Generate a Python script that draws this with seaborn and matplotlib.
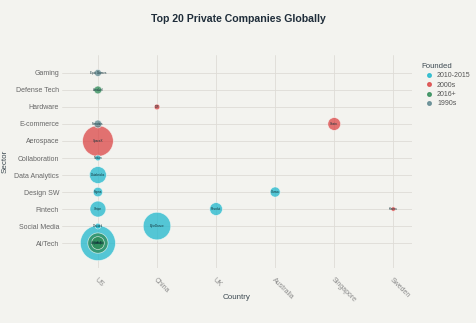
import matplotlib
matplotlib.use("Agg")
import matplotlib.pyplot as plt
import seaborn as sns
import pandas as pd
from matplotlib.lines import Line2D

companies = ["OpenAI", "Anthropic", "xAI", "SpaceX", "ByteDance", "Databricks", "Stripe",
             "Revolut", "Shein", "Canva", "Figma", "Anduril", "Fanatics", "Epic Games",
             "Discord", "Notion", "DJI", "Klarna"]
countries = ["US", "US", "US", "US", "China", "US", "US",
             "UK", "Singapore", "Australia", "US", "US", "US", "US",
             "US", "US", "China", "Sweden"]
sectors = ["AI/Tech", "AI/Tech", "AI/Tech", "Aerospace", "Social Media", "Data Analytics", "Fintech",
           "Fintech", "E-commerce", "Design SW", "Design SW", "Defense Tech", "E-commerce", "Gaming",
           "Social Media", "Collaboration", "Hardware", "Fintech"]
founded = ["2010-2015", "2016+", "2016+", "2000s", "2010-2015", "2010-2015", "2010-2015",
           "2010-2015", "2000s", "2010-2015", "2010-2015", "2016+", "1990s", "1990s",
           "2010-2015", "2010-2015", "2000s", "2000s"]
valuation = [300, 100, 40, 230, 185, 70, 62, 40, 40, 25, 22, 15, 15, 12, 8, 8, 8, 5]

country_order = ["US", "China", "UK", "Australia", "Singapore", "Sweden"]
sector_order = ["AI/Tech", "Social Media", "Fintech", "Design SW", "Data Analytics", "Collaboration",
                "Aerospace", "E-commerce", "Hardware", "Defense Tech", "Gaming"]
hue_order = ["2010-2015", "2000s", "2016+", "1990s"]
palette = ["#1FB8CD", "#DB4545", "#2E8B57", "#5D878F"]

df = pd.DataFrame({"Company": companies, "Country": countries, "Sector": sectors,
                   "Founded": founded, "Valuation": valuation})
df["cx"] = df["Country"].map({c: i for i, c in enumerate(country_order)})
df["sy"] = df["Sector"].map({s: i for i, s in enumerate(sector_order)})

bg = "#F3F3EF"
sns.set_theme(style="whitegrid")
plt.rcParams["font.family"] = ["Liberation Sans", "DejaVu Sans"]
fig = plt.figure(figsize=(4.76, 3.23), dpi=100, facecolor=bg)
ax = fig.add_axes([0.130, 0.170, 0.736, 0.660])
ax.set_facecolor(bg)

sns.scatterplot(data=df, x="cx", y="sy", hue="Founded", hue_order=hue_order, palette=palette,
                size="Valuation", sizes=(0, 640), size_norm=(0, 300), alpha=0.75,
                edgecolor="#FAFAF7", linewidth=0.5, ax=ax, legend=False, zorder=3)

for _, r in df.iterrows():
    ax.text(r["cx"], r["sy"], r["Company"], fontsize=2.2, ha="center", va="center",
            color="#13343B", zorder=4)

ax.set_xlim(-0.61, 5.32)
ax.set_ylim(-1.47, 11.06)
ax.set_xticks(range(len(country_order)))
ax.set_xticklabels(country_order, rotation=-45, ha="left", va="top", rotation_mode="anchor",
                   fontsize=5.0, color="#8a8a8a")
ax.set_yticks(range(len(sector_order)))
ax.set_yticklabels(sector_order, fontsize=5.0, color="#666666")
ax.tick_params(axis="x", length=0, pad=6)
ax.tick_params(axis="y", length=0, pad=2)
ax.grid(True, color="#DEDCD6", linewidth=0.6)
for s in ax.spines.values():
    s.set_visible(False)
ax.set_xlabel("Country", fontsize=5.8, color="#3d4a52", labelpad=-7)
ax.set_ylabel("Sector", fontsize=5.8, color="#3d4a52", labelpad=4)

fig.text(0.5, 0.940, "Top 20 Private Companies Globally", ha="center", va="center",
         fontsize=7.6, color="#1F2D3A", fontweight="bold")

handles = [Line2D([0], [0], marker="o", linestyle="", markersize=2.6, markerfacecolor=c,
                  markeredgecolor=c, alpha=0.8) for c in palette]
leg = fig.legend(handles, hue_order, title="Founded", loc="upper left",
                 bbox_to_anchor=(0.886, 0.806), frameon=False, fontsize=5.0,
                 title_fontsize=5.6, handletextpad=0.2, labelspacing=0.35,
                 borderaxespad=0, borderpad=0, handlelength=2.0)
leg._legend_box.align = "left"
for t in leg.get_texts():
    t.set_color("#555555")
leg.get_title().set_color("#3d4a52")

fig.savefig("out.png", dpi=100, facecolor=bg)
